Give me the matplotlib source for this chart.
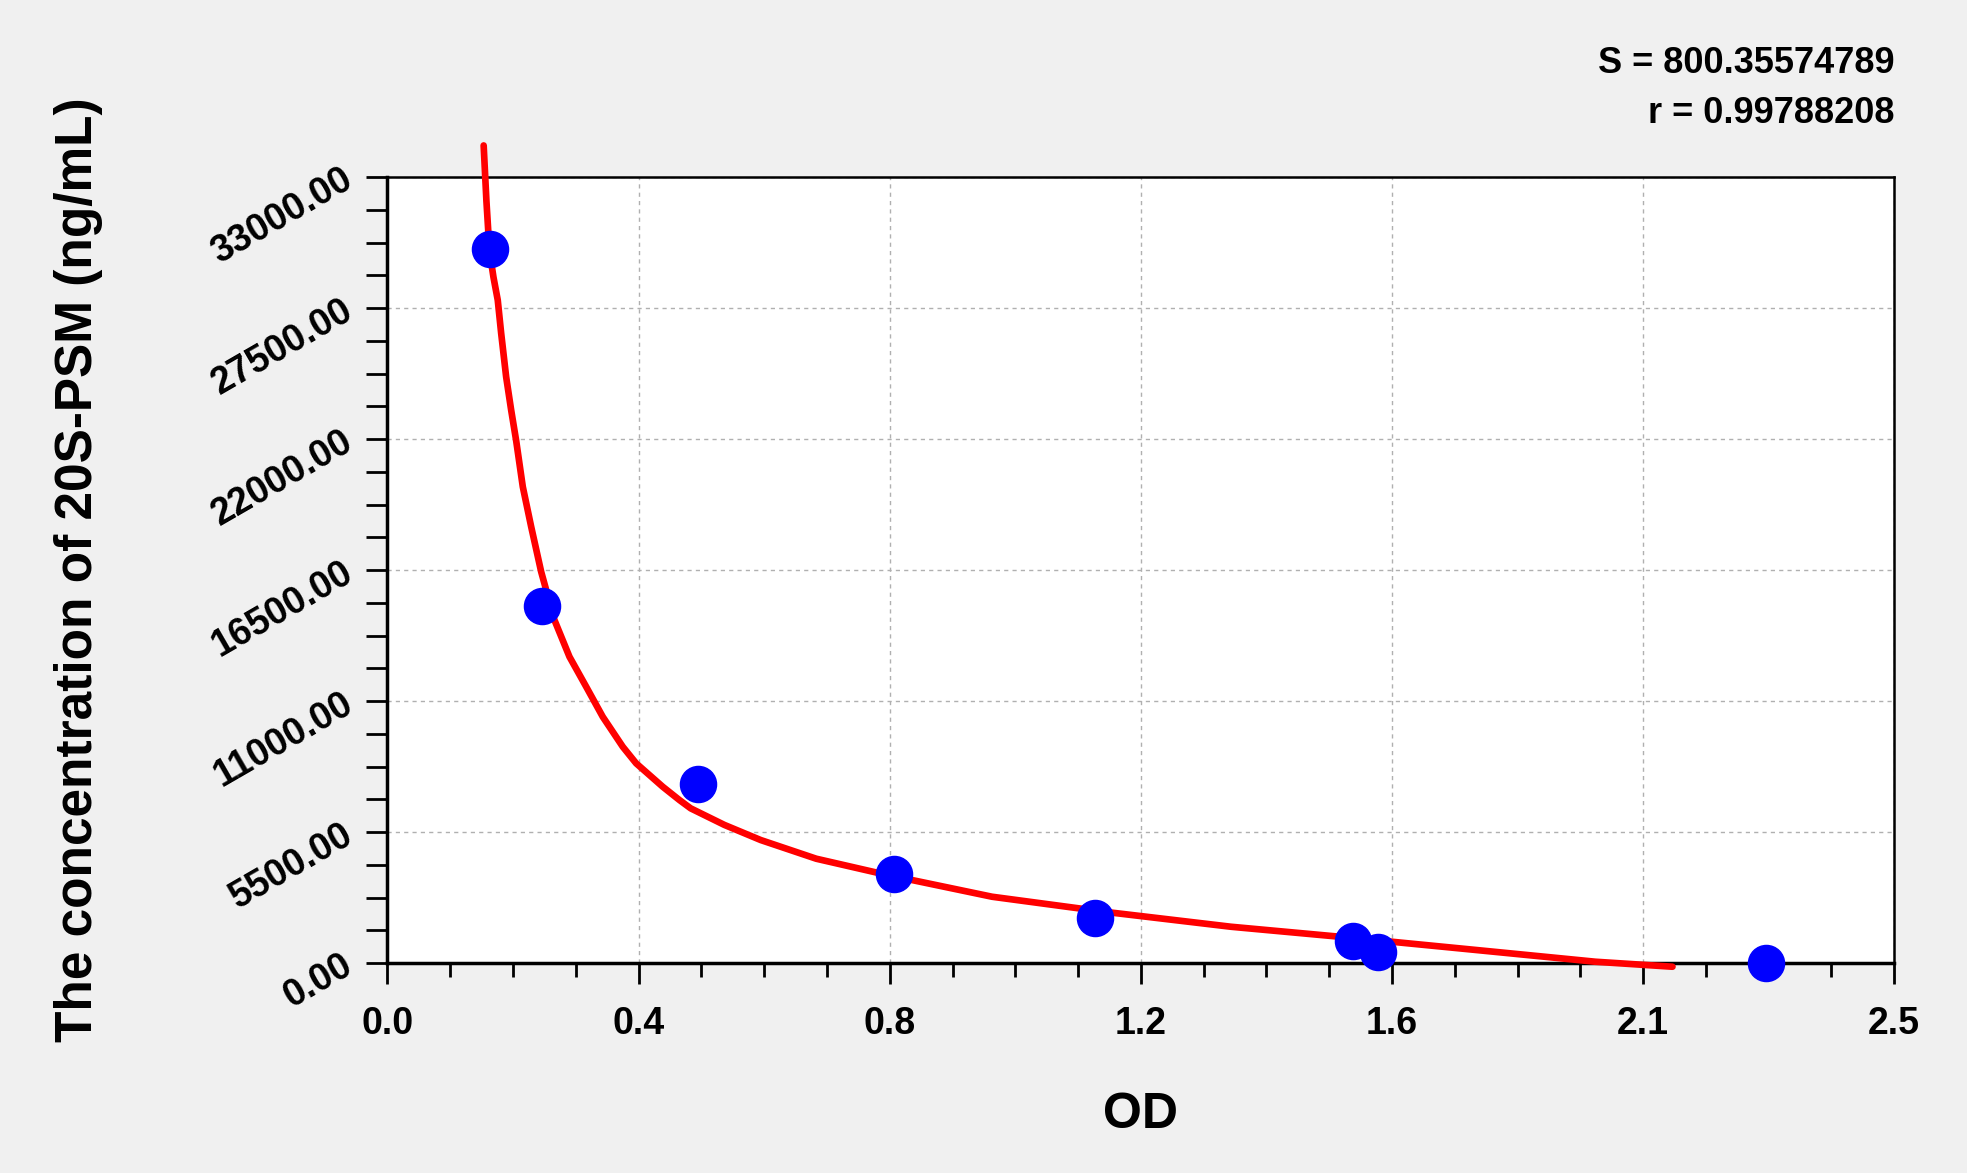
import numpy as np
import matplotlib
matplotlib.use("Agg")
import matplotlib.pyplot as plt
from matplotlib.ticker import MultipleLocator

# standard points (OD vs concentration)
od_points = [0.167, 0.252, 0.507, 0.827, 1.155, 1.577, 1.617, 2.251]
conc_points = [30000, 15000, 7500, 3750, 1875, 938, 469, 0]

# fitted curve
curve_od = [0.157, 0.1615, 0.1665, 0.1730, 0.180, 0.1856, 0.1937, 0.2019, 0.2101, 0.2209,
            0.2346, 0.2509, 0.2726, 0.2971, 0.3244, 0.3514, 0.3841, 0.4060, 0.4494,
            0.4767, 0.495, 0.550, 0.6094, 0.700, 0.804, 0.987, 1.170, 1.377, 1.583,
            1.778, 1.972, 2.098]
curve_conc = [34330, 32000, 29900, 28800, 27836, 26438, 24616, 23218, 21929, 19998,
              18318, 16429, 14401, 12860, 11601, 10341, 9082, 8384, 7402,
              6843, 6495, 5800, 5164, 4380, 3766, 2784, 2154, 1524, 1037,
              546, 55, -155]

x_ticks = [0.0, 0.41, 0.82, 1.23, 1.64, 2.05, 2.46]
x_labels = ["0.0", "0.4", "0.8", "1.2", "1.6", "2.1", "2.5"]
y_ticks = [0, 5500, 11000, 16500, 22000, 27500, 33000]

plt.rcParams['font.family'] = ['Liberation Sans', 'DejaVu Sans']
plt.rcParams['font.weight'] = 'bold'

fig = plt.figure(figsize=(19.67, 11.73), dpi=100, facecolor='#f0f0f0')
ax = fig.add_axes([0.197, 0.179, 0.766, 0.670])
ax.set_facecolor('white')

ax.plot(curve_od, curve_conc, color='#ff0000', lw=4.8, zorder=3, clip_on=False,
        solid_capstyle='round', solid_joinstyle='round')
ax.plot(od_points, conc_points, 'o', color='#0000ff', markersize=26, zorder=4,
        clip_on=False)

ax.set_xlim(0, 2.46)
ax.set_ylim(0, 33000)
ax.set_xticks(x_ticks)
ax.set_xticklabels(x_labels)
ax.xaxis.set_minor_locator(MultipleLocator(0.1025))
ax.set_yticks(y_ticks)
ax.set_yticklabels([f"{v:.2f}" for v in y_ticks], rotation=30,
                   rotation_mode='anchor', ha='right', va='center')
ax.yaxis.set_minor_locator(MultipleLocator(1375))

ax.tick_params(axis='x', which='major', length=15, width=2, labelsize=27, pad=16)
ax.tick_params(axis='x', which='minor', length=10, width=2)
ax.tick_params(axis='y', which='both', length=15, width=2, labelsize=27, pad=12)

ax.grid(True, which='major', color='#b0b0b0', linestyle=(0, (3, 3)), linewidth=1)
ax.set_axisbelow(True)
for side in ['left', 'bottom']:
    ax.spines[side].set_linewidth(2.5)
for side in ['top', 'right']:
    ax.spines[side].set_linewidth(1.8)

ax.set_xlabel("OD", fontsize=36, fontweight='bold', labelpad=36)
ax.set_ylabel("The concentration of 20S-PSM (ng/mL)", fontsize=37,
              fontweight='bold', labelpad=74)

fig.text(0.963, 0.946, "S = 800.35574789", ha='right', va='center',
         fontsize=26, fontweight='bold')
fig.text(0.963, 0.903, "r = 0.99788208", ha='right', va='center',
         fontsize=26, fontweight='bold')

fig.savefig("out.png", dpi=100, facecolor=fig.get_facecolor())
